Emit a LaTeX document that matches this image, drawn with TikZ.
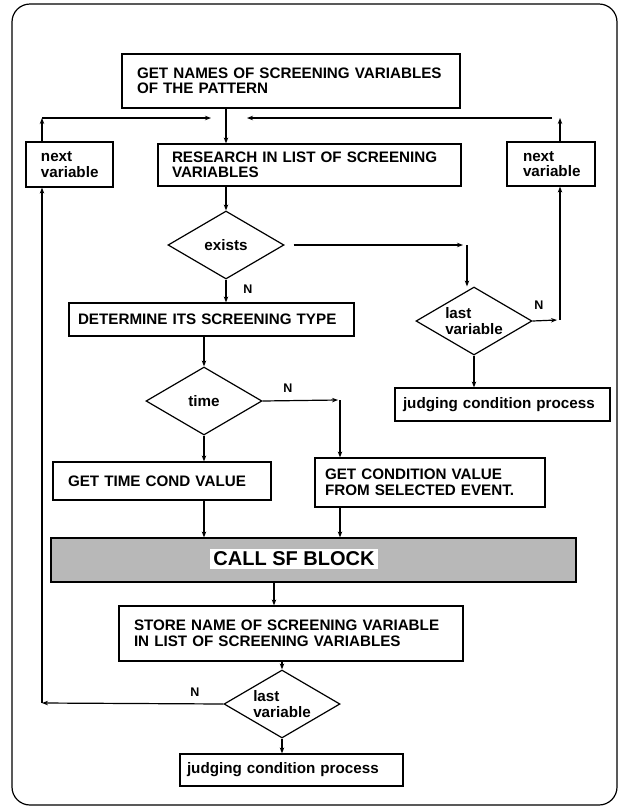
\documentclass[tikz,border=0pt]{standalone}
\usepackage{fontspec}
\setmainfont{Liberation Sans}
\usetikzlibrary{shapes.geometric,arrows.meta}
\begin{document}
\begin{tikzpicture}[x=1pt,y=-1pt,
  line width=1.2pt,
  every node/.style={font=\fontsize{15.2}{15.5}\selectfont\bfseries},
  box/.style={draw, rectangle, align=left, inner ysep=0pt},
  test/.style={draw, diamond, aspect=1.7, align=left, inner sep=0pt,
               minimum width=116pt, minimum height=68pt},
  arr/.style={-{Stealth[length=6pt,width=4.5pt]}},
  lab/.style={font=\fontsize{12.5}{12.5}\selectfont\bfseries, inner sep=0pt}]

\useasboundingbox (0,0) rectangle (619,807);
% outer frame
\draw[rounded corners=18pt] (12,4) rectangle (617,805);

% process boxes and decisions
\node[box, text width=308pt, inner xsep=15pt, minimum height=54pt] (b1) at (291,81)
  {GET NAMES OF SCREENING VARIABLES\\OF THE PATTERN};
\node[box, text width=57pt, inner xsep=15pt, minimum height=45pt] (nv1) at (69.5,164.5)
  {next\\variable};
\node[box, text width=275pt, inner xsep=14pt, minimum height=42pt] (b2) at (309.5,165)
  {RESEARCH IN LIST OF SCREENING\\VARIABLES};
\node[box, text width=56pt, inner xsep=16pt, minimum height=44pt] (nv2) at (551,164)
  {next\\variable};
\node[test, align=center] (ex) at (226,245) {exists};
\node[test] (lv1) at (474,321) {last\\variable};
\node[box, text width=199pt, inner xsep=8pt, minimum height=33pt] (jd1) at (502.5,404.5)
  {judging condition process};
\node[box, text width=267pt, inner xsep=9pt, minimum height=33pt] (det) at (211.5,319.5)
  {DETERMINE ITS SCREENING TYPE};
\node[test, align=center] (tm) at (204,401) {time};
\node[box, text width=188pt, inner xsep=15pt, minimum height=38pt] (gtc) at (162,481)
  {GET TIME COND VALUE};
\node[box, text width=210pt, inner xsep=10pt, minimum height=49pt] (gcv) at (430,482.5)
  {GET CONDITION VALUE\\FROM SELECTED EVENT.};
\node[draw, fill=black!28, minimum width=525pt, minimum height=44pt, inner sep=0pt] (sf) at (313.5,560) {};
\node[fill=white, inner xsep=3pt, inner ysep=3pt, font=\fontsize{20}{20}\selectfont\bfseries] (sft) at (294,559)
  {CALL SF BLOCK};
\node[box, text width=314pt, inner xsep=15pt, minimum height=55pt] (st) at (291,633.5)
  {STORE NAME OF SCREENING VARIABLE\\IN LIST OF SCREENING VARIABLES};
\node[test] (lv2) at (282,704) {last\\variable};
\node[box, text width=209pt, inner xsep=7pt, minimum height=32pt] (jd2) at (291.5,770)
  {judging condition process};

% bend points of the connectors
\coordinate (jl) at (42,118);
\coordinate (jlm) at (211,118);
\coordinate (jr) at (560,118);
\coordinate (jrm) at (247,118);
\coordinate (cE) at (467,245);
\coordinate (cR) at (560,320);
\coordinate (cT) at (340,400);
\coordinate (cS) at (274,595);
\coordinate (cL) at (42,703);

% connectors
\draw[arr] (b1.south -| ex.north) -- (b2.north -| ex.north);
\draw[arr] (b2.south -| ex.north) -- (ex.north);
\draw[arr] (nv1.north -| jl) -- (jl);
\draw[arr] (jl) -- (jlm);
\draw[arr] (nv2.north -| jr) -- (jr);
\draw[arr] ([xshift=-8pt]jr) -- (jrm);
\draw[arr, shorten <=9pt] (ex.east) -- ([xshift=-4pt]cE);
\draw[arr] (cE) -- (cE |- lv1.north);
\draw[arr] (ex.south) -- (ex.south |- det.north);
\node[lab] at (248,289) {N};
\draw[arr] (lv1.east) -- ([xshift=-3pt]cR);
\draw[arr] (cR) -- (cR |- nv2.south);
\node[lab] at (539,305) {N};
\draw[arr] (lv1.south) -- (lv1.south |- jd1.north);
\draw[arr] (det.south -| tm.north) -- (tm.north);
\draw[arr] (tm.east) -- ([xshift=-2pt]cT);
\draw[arr] (cT) -- (cT |- gcv.north);
\node[lab] at (288,388) {N};
\draw[arr] (tm.south) -- (tm.south |- gtc.north);
\draw[arr] (gtc.south -| tm.south) -- (tm.south |- sf.north);
\draw[arr] (gcv.south -| cT) -- (cT |- sf.north);
\draw[arr] (sf.south -| cS) -- (st.north -| cS);
\draw[arr] (st.south -| lv2.north) -- (lv2.north);
\draw[arr] (lv2.west) -- (cL);
\node[lab] at (195,692) {N};
\draw[arr] (cL) -- (cL |- nv1.south);
\draw[arr] (lv2.south) -- (lv2.south |- jd2.north);
\end{tikzpicture}
\end{document}
